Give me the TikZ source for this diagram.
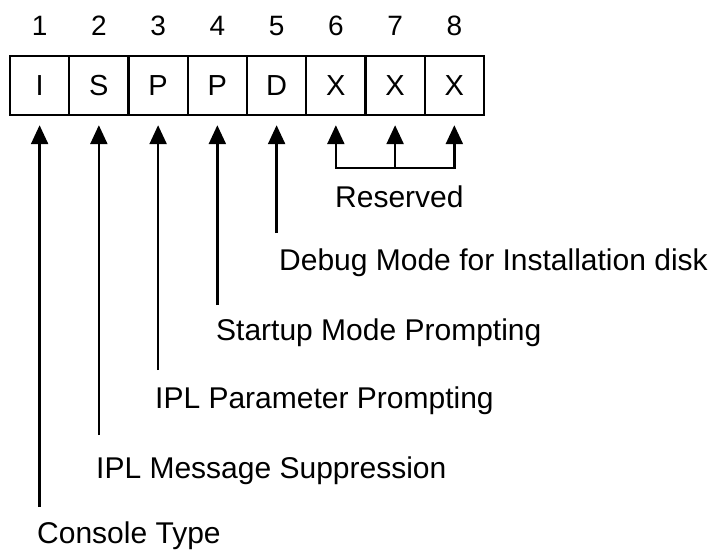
\documentclass[tikz,border=0pt]{standalone}
\usepackage{fontspec}
\setmainfont{Liberation Sans}
\usetikzlibrary{arrows.meta}
\begin{document}
\begin{tikzpicture}[x=1pt,y=-1pt,
  cell/.style={draw, line width=2.4pt, minimum width=59.25pt, minimum height=59pt, inner sep=0pt,
     font=\fontsize{29}{34}\selectfont},
  num/.style={inner sep=0pt, anchor=base, font=\fontsize{28}{34}\selectfont},
  lbl/.style={inner sep=0pt, anchor=base west, font=\fontsize{30}{36}\selectfont},
  conn/.style={line width=2.4pt, -{Triangle[length=19pt,width=17pt]}, shorten >=9pt},
  bconn/.style={line width=2.4pt, {Triangle[length=19pt,width=17pt]}-{Triangle[length=19pt,width=17pt]},
     shorten >=9pt, shorten <=9pt, line join=miter}]
\useasboundingbox (0,0) rectangle (712,550);
% cells
\foreach \i/\t in {1/I,2/S,3/P,4/P,5/D,6/X,7/X,8/X}{
  \node[cell] (c\i) at ({10+29.6+59.25*(\i-1)},85.5) {\t};
  \node[num] (n\i) at ({10+29.6+59.25*(\i-1)},35) {\i};
}
% free ends of the connectors
\coordinate (b1) at (c1.south |- 0,507);
\coordinate (b2) at (c2.south |- 0,435);
\coordinate (b3) at (c3.south |- 0,370);
\coordinate (b4) at (c4.south |- 0,305);
\coordinate (b5) at (c5.south |- 0,233);
\coordinate (r6) at (c6.south |- 0,168);
\coordinate (r7) at (c7.south |- 0,168);
\coordinate (r8) at (c8.south |- 0,168);
% connectors
\foreach \i in {1,...,5}{ \draw[conn] (b\i) -- (c\i.south); }
\draw[bconn] (c6.south) -- (r6) -- (r8) -- (c8.south);
\draw[conn] (r7) -- (c7.south);
% labels
\node[lbl] (reserved) at (335,207) {Reserved};
\node[lbl] (debug) at (279,270) {Debug Mode for Installation disk};
\node[lbl] (startup) at (216,340) {Startup Mode Prompting};
\node[lbl] (iplparam) at (155,408) {IPL Parameter Prompting};
\node[lbl] (iplmsg) at (96,478) {IPL Message Suppression};
\node[lbl] (console) at (37,543) {Console Type};
\end{tikzpicture}
\end{document}
